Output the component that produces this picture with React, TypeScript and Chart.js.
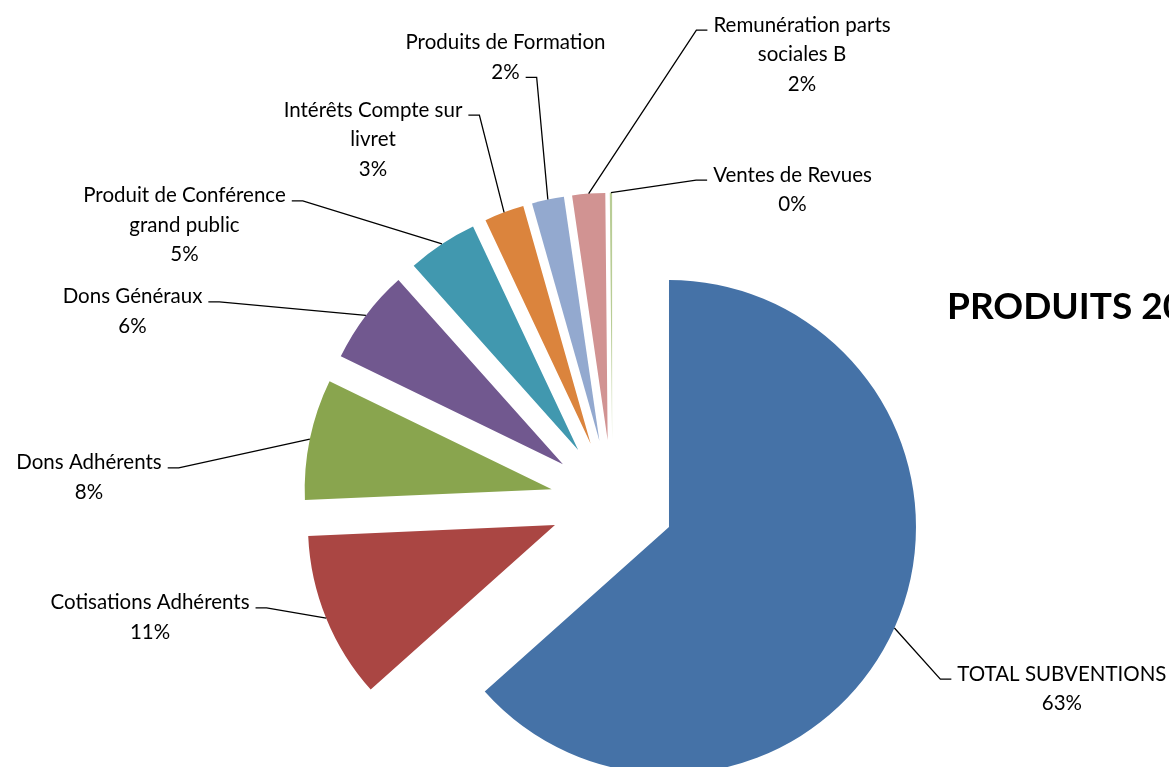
import React, { useEffect, useRef } from 'react';
import { Chart, registerables } from 'chart.js';

Chart.register(...registerables);

// ---------- data ----------
const CATEGORIES: string[][] = [
  ['TOTAL SUBVENTIONS'],
  ['Cotisations Adhérents'],
  ['Dons Adhérents'],
  ['Dons Généraux'],
  ['Produit de Conférence', 'grand public'],
  ['Intérêts Compte sur', 'livret'],
  ['Produits de Formation'],
  ['Remunération parts', 'sociales B'],
  ['Ventes de Revues'],
];
const VALUES: number[] = [63.4, 10.9, 7.9, 6.2, 4.6, 2.6, 2.1, 2.15, 0.15];
const COLORS: string[] = [
  '#4572A7', '#AA4643', '#89A54E', '#71588F', '#4198AF',
  '#DB843D', '#93A9CF', '#D19392', '#B9CD96',
];
const TITLE = 'PRODUITS 20';

// ---------- layout / style ----------
const W = 1169;
const H = 767;
const PIE_CX = 612.4;
const PIE_CY = 501.7;
const RADIUS = 247;
const EXPLODE = 62;
const LABEL_FONT = '20.5px Lato';
const LINE_H = 29.5;
const GAP = 6;
const HLEN = 11;
// label block position relative to pie centre: centre x, first baseline y, leader attach line & side
const LABEL_LAYOUT: { dx: number; dy: number; line: number; side: 'left' | 'right' }[] = [
  { dx: 449.5, dy: 179.0, line: 0, side: 'left' },
  { dx: -462.4, dy: 107.6, line: 0, side: 'right' },
  { dx: -523.4, dy: -32.4, line: 0, side: 'right' },
  { dx: -479.9, dy: -198.4, line: 0, side: 'right' },
  { dx: -427.9, dy: -299.4, line: 0, side: 'right' },
  { dx: -239.4, dy: -385.0, line: 0, side: 'right' },
  { dx: -106.9, dy: -452.4, line: 1, side: 'right' },
  { dx: 189.6, dy: -470.0, line: 0, side: 'left' },
  { dx: 180.1, dy: -320.0, line: 0, side: 'left' },
];

const explodePlugin = {
  id: 'explodeSlices',
  afterDatasetUpdate(chart: any, args: any) {
    const meta = chart.getDatasetMeta(args.index);
    meta.data.forEach((arc: any) => {
      const mid = (arc.startAngle + arc.endAngle) / 2;
      arc.x += Math.cos(mid) * EXPLODE;
      arc.y += Math.sin(mid) * EXPLODE;
    });
  },
};

const labelPlugin = {
  id: 'excelLabels',
  afterDraw(chart: any) {
    const ctx: CanvasRenderingContext2D = chart.ctx;
    const area = chart.chartArea;
    const cx = (area.left + area.right) / 2;
    const cy = (area.top + area.bottom) / 2;
    const meta = chart.getDatasetMeta(0);
    const data: number[] = chart.data.datasets[0].data;
    const total = data.reduce((a, b) => a + b, 0);
    ctx.save();
    ctx.font = LABEL_FONT;
    ctx.fillStyle = '#000';
    ctx.strokeStyle = '#000';
    ctx.lineWidth = 1.3;
    ctx.textAlign = 'center';
    ctx.textBaseline = 'alphabetic';
    meta.data.forEach((arc: any, i: number) => {
      const lay = LABEL_LAYOUT[i];
      const lines = [...(chart.data.labels[i] as string[]), Math.round((data[i] / total) * 100) + '%'];
      const lx = cx + lay.dx;
      const ly = cy + lay.dy;
      lines.forEach((t, k) => ctx.fillText(t, lx, ly + k * LINE_H));
      // leader line
      const mid = (arc.startAngle + arc.endAngle) / 2;
      const ex = arc.x + Math.cos(mid) * arc.outerRadius;
      const ey = arc.y + Math.sin(mid) * arc.outerRadius;
      const tw = ctx.measureText(lines[lay.line]).width;
      const hy = ly + lay.line * LINE_H - 1.5;
      const sgn = lay.side === 'left' ? -1 : 1;
      const edge = lx + sgn * tw / 2;
      const hx1 = edge + sgn * GAP;
      const hx2 = edge + sgn * (GAP + HLEN);
      ctx.beginPath();
      ctx.moveTo(ex, ey);
      ctx.lineTo(hx2, hy);
      ctx.lineTo(hx1, hy);
      ctx.stroke();
    });
    // title
    ctx.font = 'bold 37px Lato';
    ctx.textAlign = 'left';
    ctx.fillText(TITLE, 947, 319);
    ctx.restore();
  },
};

export default function App() {
  const ref = useRef<HTMLCanvasElement | null>(null);
  useEffect(() => {
    if (!ref.current) return;
    const chart = new Chart(ref.current, {
      type: 'pie',
      data: {
        labels: CATEGORIES as any,
        datasets: [
          {
            data: VALUES,
            backgroundColor: COLORS,
            borderWidth: 0,
            radius: RADIUS,
            clip: false,
          } as any,
        ],
      },
      options: {
        responsive: false,
        animation: false,
        layout: {
          padding: { left: 2 * PIE_CX - W, right: 0, top: 2 * PIE_CY - H, bottom: 0 },
        },
        plugins: {
          legend: { display: false },
          tooltip: { enabled: false },
          title: { display: false },
        },
      },
      plugins: [explodePlugin, labelPlugin],
    });
    return () => chart.destroy();
  }, []);
  return (
    <div style={{ position: 'fixed', left: 0, top: 0, width: W, height: H, background: '#fff', overflow: 'hidden' }}>
      <canvas ref={ref} width={W} height={H} style={{ width: W, height: H, display: 'block' }} />
    </div>
  );
}
